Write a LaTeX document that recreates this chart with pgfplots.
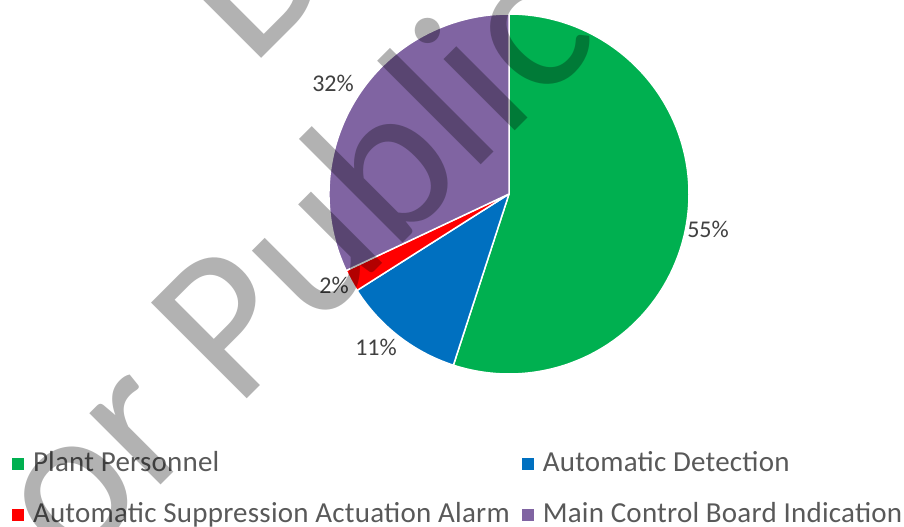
\documentclass[border=0pt]{standalone}
\usepackage{pgfplots}
\pgfplotsset{compat=1.18}
\usepackage{pgfplotstable}
\usepackage{fontspec}
\setmainfont{Carlito}
\newfontfamily\legfont[LetterSpace=0.8]{Carlito}
\definecolor{cGreen}{HTML}{00B050}
\definecolor{cBlue}{HTML}{0070C0}
\definecolor{cRed}{HTML}{FF0000}
\definecolor{cPurple}{HTML}{8064A2}
\definecolor{txt}{HTML}{404040}
\definecolor{leg}{HTML}{595959}

\pgfplotstableread{
idx value color
0 55 cGreen
1 11 cBlue
2 2 cRed
3 32 cPurple
}\piedata

\begin{document}
\begin{tikzpicture}
\useasboundingbox (0,0) rectangle (904bp,527bp);
\begin{axis}[
  at={(0,0)}, anchor=south west,
  x=1bp, y=1bp, scale only axis,
  xmin=0, xmax=904, ymin=0, ymax=527,
  hide axis, clip=false,
  legend columns=2,
  legend cell align=left,
  legend image code/.code={\fill[#1] (0bp,-6bp) rectangle (12bp,6bp);},
  legend style={draw=none, fill=none, inner sep=0pt, outer sep=0pt,
    at={(axis cs:12,77)}, anchor=north west,
    font=\legfont\fontsize{29bp}{34bp}\selectfont, text=leg,
    nodes={inner sep=0pt, text height=21bp, text depth=6bp},
    row sep=24bp,
    /tikz/every odd column/.append style={column sep=9bp},
    /tikz/every even column/.append style={column sep=12bp}},
]
\def\cum{0}
\pgfplotsforeachungrouped \i in {0,...,3}{%
  \pgfplotstablegetelem{\i}{value}\of\piedata
  \let\val\pgfplotsretval
  \pgfplotstablegetelem{\i}{color}\of\piedata
  \let\col\pgfplotsretval
  \pgfmathsetmacro\sa{90-3.6*\cum}%
  \pgfmathsetmacro\ea{90-3.6*(\cum+\val)}%
  \edef\cmd{\noexpand\fill[fill=\col, draw=white, line width=1.5bp, line join=round]
    (axis cs:509,333) -- ++(\sa:180bp) arc[start angle=\sa, end angle=\ea, radius=180bp] -- cycle;}%
  \cmd
  \pgfmathsetmacro\cum{\cum+\val}%
}
\addlegendimage{fill=cGreen, draw=none}
\addlegendentry{Plant Personnel}
\addlegendimage{fill=cBlue, draw=none}
\addlegendentry{Automatic Detection}
\addlegendimage{fill=cRed, draw=none}
\addlegendentry{Automatic Suppression Actuation Alarm}
\addlegendimage{fill=cPurple, draw=none}
\addlegendentry{Main Control Board Indication}
\begin{scope}[every node/.style={font=\fontsize{24bp}{28bp}\selectfont, text=txt, anchor=base, inner sep=0pt}]
\node at (axis cs:708,290) {55\%};
\node at (axis cs:376,172) {11\%};
\node at (axis cs:334,234) {2\%};
\node at (axis cs:333,435) {32\%};
\end{scope}
\end{axis}
\begin{scope}
\clip (0,0) rectangle (904bp,527bp);
\node[anchor=base west, rotate=45, inner sep=0pt, text=black, opacity=0.3,
  font=\fontsize{211bp}{250bp}\selectfont] at (6bp,-113bp) {For Public};
\node[anchor=base west, rotate=45, inner sep=0pt, text=black, opacity=0.3,
  font=\fontsize{211bp}{250bp}\selectfont] at (251bp,458bp) {Draft};
\end{scope}
\end{tikzpicture}
\end{document}
